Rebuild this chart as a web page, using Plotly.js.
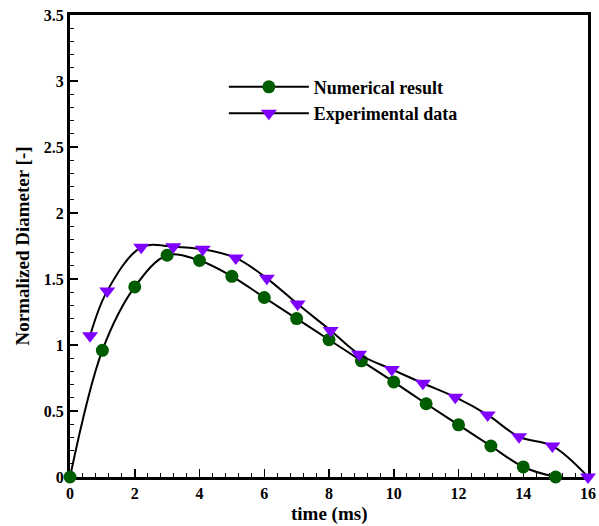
<!DOCTYPE html>
<html>
<head>
<meta charset="utf-8">
<script src="https://cdn.plot.ly/plotly-3.0.1.min.js"></script>
<style>html,body{margin:0;padding:0;background:#fff;}#chart{width:599px;height:526px;}</style>
</head>
<body>
<div id="chart"></div>
<script>
const numTime = [0,1,2,3,4,5,6,7,8,9,10,11,12,13,14,15];
const numDiameter = [0,0.96,1.44,1.68,1.64,1.52,1.36,1.20,1.04,0.88,0.72,0.555,0.395,0.235,0.076,0];
const expTime = [0.62,1.15,2.2,3.19,4.1,5.12,6.08,7.03,8.05,8.93,9.94,10.9,11.9,12.9,13.87,14.9,16];
const expDiameter = [1.07,1.41,1.74,1.745,1.725,1.66,1.505,1.31,1.11,0.93,0.815,0.71,0.605,0.47,0.305,0.235,0];
const seriesNames = ["Numerical result","Experimental data"];
const xTitle = 'time (ms)';
const yTitle = 'Normalized Diameter [-]';

const fontFam = '"Liberation Serif", "Times New Roman", serif';

const traces = [
  {x:numTime, y:numDiameter, name:seriesNames[0], mode:'lines+markers',
   line:{color:'#000', width:2, shape:'spline', smoothing:1},
   marker:{symbol:'circle', size:13, color:'#005c00'}, cliponaxis:false},
  {x:expTime, y:expDiameter, name:seriesNames[1], mode:'lines+markers',
   line:{color:'#000', width:2, shape:'spline', smoothing:1},
   marker:{symbol:'triangle-down', size:14, color:'#8000ff'}, cliponaxis:false}
];

const axisCommon = {
  showline:true, mirror:true, linewidth:3, linecolor:'#000',
  ticks:'inside', ticklen:8, tickwidth:1.5, tickcolor:'#000',
  showgrid:false, zeroline:false, layer:'below traces',
  tickfont:{family:fontFam, size:16, color:'#000', weight:'bold'}
};

const layout = {
  width:599, height:526,
  margin:{l:70, r:11, t:15, b:49},
  paper_bgcolor:'#fff', plot_bgcolor:'#fff',
  showlegend:true,
  legend:{x:0.297, y:0.884, xanchor:'left', yanchor:'top', bgcolor:'rgba(0,0,0,0)',
    font:{family:fontFam, size:18, color:'#000', weight:'bold'}, tracegroupgap:0, itemwidth:80},
  xaxis:Object.assign({}, axisCommon, {
    range:[0,16], dtick:2, tick0:0,
    minor:{dtick:0.4, ticks:'inside', ticklen:4, tickwidth:1, tickcolor:'#000'}
  }),
  yaxis:Object.assign({}, axisCommon, {
    range:[0,3.5], dtick:0.5, tick0:0,
    minor:{dtick:0.1, ticks:'inside', ticklen:4, tickwidth:1, tickcolor:'#000'},
    title:{text:yTitle, standoff:10, font:{family:fontFam, size:19, color:'#000', weight:'bold'}}
  }),
  annotations:[{
    text:xTitle, xref:'paper', yref:'paper', x:0.5, y:0, xanchor:'center', yanchor:'middle',
    yshift:-37, showarrow:false, font:{family:fontFam, size:19, color:'#000', weight:'bold'}
  }]
};

Plotly.newPlot('chart', traces, layout, {displayModeBar:false, staticPlot:true});
</script>
</body>
</html>
